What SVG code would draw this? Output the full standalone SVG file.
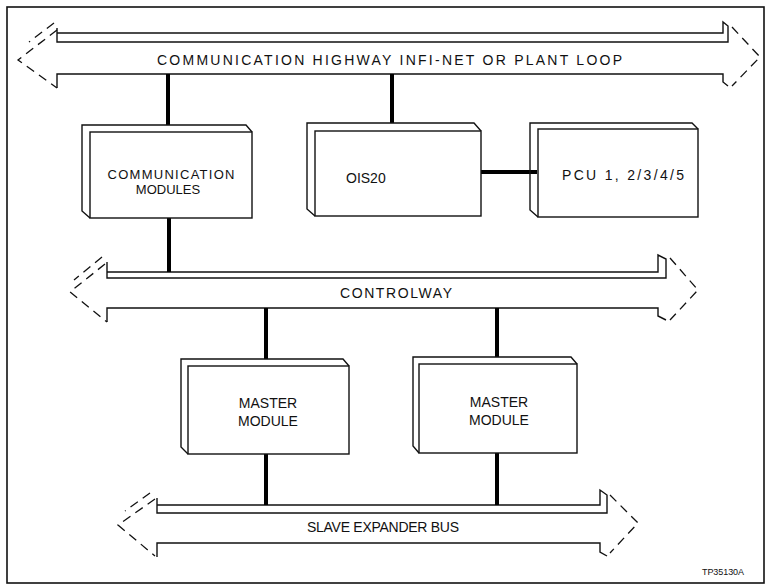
<svg xmlns="http://www.w3.org/2000/svg" width="771" height="586" viewBox="0 0 771 586">
<style>
.ol{fill:none;stroke:#111;stroke-width:1.4;stroke-linejoin:miter}
.bx{fill:#fff;stroke:#111;stroke-width:1.4}
.ds{fill:none;stroke:#111;stroke-width:1.3;stroke-dasharray:9 6}
.cn{stroke:#000;stroke-width:4;fill:none}
.t{font-family:"Liberation Sans",Arial,sans-serif;font-size:14px;fill:#111}
.s13{font-size:13px}
.s9{font-size:9px}
</style>
<rect x="0" y="0" width="771" height="586" fill="#fff"/>
<rect x="7" y="7" width="757" height="576" class="ol" style="stroke-width:1.6"/>

<g id="highway">
  <path class="ol" d="M57,28 V42 H728 V26 L723,22 V33 H57"/>
  <path class="ol" d="M57,88 V74 H723 V82 L728,86"/>
  <path class="ds" d="M57,30 L18,60 L57,88"/>
  <path class="ds" d="M54,23 L29,42"/>
  <path class="ds" d="M732,27 L760,57 L732,86"/>
  <text class="t" x="157" y="65" textLength="465" lengthAdjust="spacing">COMMUNICATION HIGHWAY INFI-NET OR PLANT LOOP</text>
</g>

<g id="controlway">
  <path class="ol" d="M107,262 V278 H666 V259 L658,255 V272 H107"/>
  <path class="ol" d="M107,322 V308 H658 V316 L666,320"/>
  <path class="ds" d="M105,264 L70,292 L107,322"/>
  <path class="ds" d="M102,257 L74,280"/>
  <path class="ds" d="M670,258 L698,290 L670,320"/>
  <text class="t" x="340" y="298" textLength="112" lengthAdjust="spacing">CONTROLWAY</text>
</g>

<g id="slave-expander-bus">
  <path class="ol" d="M157,498 V513 H607 V495 L600,490 V505 H157"/>
  <path class="ol" d="M157,557 V543 H600 V552 L607,556"/>
  <path class="ds" d="M155,499 L118,525 L155,556"/>
  <path class="ds" d="M150,493 L125,511"/>
  <path class="ds" d="M610,495 L638,523 L610,553"/>
  <text class="t" x="307" y="532" textLength="152" lengthAdjust="spacing">SLAVE EXPANDER BUS</text>
</g>

<g id="connectors">
  <line class="cn" x1="168" y1="74" x2="168" y2="125"/>
  <line class="cn" x1="392" y1="74" x2="392" y2="123"/>
  <line class="cn" x1="169" y1="218" x2="169" y2="272"/>
  <line class="cn" x1="481" y1="172" x2="537" y2="172"/>
  <line class="cn" x1="266" y1="308" x2="266" y2="359"/>
  <line class="cn" x1="497" y1="308" x2="497" y2="357"/>
  <line class="cn" x1="266" y1="454" x2="266" y2="505"/>
  <line class="cn" x1="497" y1="453" x2="497" y2="505"/>
</g>

<g id="communication-modules">
  <path class="ol" d="M90,218 L82,211 V125 H246 L252,132"/>
  <rect class="bx" x="90" y="132" width="162" height="86"/>
  <text class="t s13" x="171" y="179" text-anchor="middle" textLength="127" lengthAdjust="spacing">COMMUNICATION</text>
  <text class="t s13" x="168" y="194" text-anchor="middle">MODULES</text>
</g>

<g id="ois20">
  <path class="ol" d="M315,216 L307,209 V123 H474 L481,131"/>
  <rect class="bx" x="315" y="131" width="166" height="85"/>
  <text class="t" x="346" y="183">OIS20</text>
</g>

<g id="pcu">
  <path class="ol" d="M538,217 L530,210 V123 H692 L698,129"/>
  <rect class="bx" x="538" y="129" width="160" height="88"/>
  <text class="t" x="562" y="180" textLength="122" lengthAdjust="spacing">PCU 1, 2/3/4/5</text>
</g>

<g id="master-module-1">
  <path class="ol" d="M188,454 L181,447 V359 H343 L349,366"/>
  <rect class="bx" x="188" y="366" width="161" height="88"/>
  <text class="t" x="268" y="408" text-anchor="middle">MASTER</text>
  <text class="t" x="268" y="426" text-anchor="middle">MODULE</text>
</g>

<g id="master-module-2">
  <path class="ol" d="M419,453 L413,446 V357 H571 L577,364"/>
  <rect class="bx" x="419" y="364" width="158" height="89"/>
  <text class="t" x="499" y="407" text-anchor="middle">MASTER</text>
  <text class="t" x="499" y="425" text-anchor="middle">MODULE</text>
</g>

<text class="t s9" x="702" y="575" textLength="42" lengthAdjust="spacing">TP35130A</text>
</svg>
